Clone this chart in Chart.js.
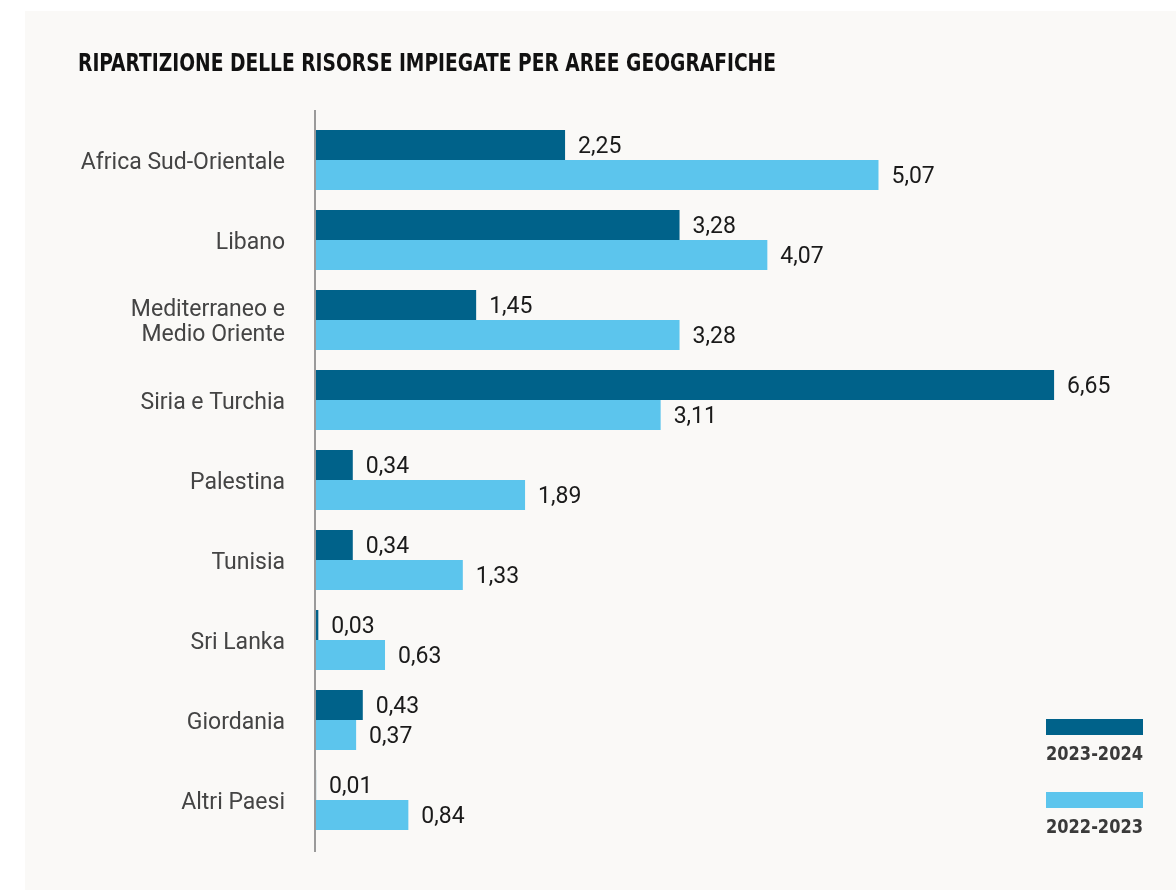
<!DOCTYPE html>
<html>
<head>
<meta charset="utf-8">
<script src="https://cdn.jsdelivr.net/npm/chart.js@4.4.1/dist/chart.umd.min.js"></script>
<style>
  html, body { margin: 0; padding: 0; background: #ffffff; }
  #panel { position: absolute; left: 25px; top: 11px; width: 1151px; height: 879px; background: #faf9f7; }
  #chart { position: absolute; left: 0; top: 0; }
</style>
</head>
<body>
<div id="panel"></div>
<canvas id="chart" width="1176" height="890"></canvas>
<script>
/* ---- dati ---- */
const titleText = "RIPARTIZIONE DELLE RISORSE IMPIEGATE PER AREE GEOGRAFICHE";
const areas = [
  "Africa Sud-Orientale",
  "Libano",
  ["Mediterraneo e", "Medio Oriente"],
  "Siria e Turchia",
  "Palestina",
  "Tunisia",
  "Sri Lanka",
  "Giordania",
  "Altri Paesi"
];
const years = ["2023-2024", "2022-2023"];
const values2324 = [2.25, 3.28, 1.45, 6.65, 0.34, 0.34, 0.03, 0.43, 0.01];
const values2223 = [5.07, 4.07, 3.28, 3.11, 1.89, 1.33, 0.63, 0.37, 0.84];
const colors = ["#00628a", "#5cc5ed"];

const fmt = v => v.toFixed(2).replace(".", ",");

/* ---- titolo, asse, etichette e legenda ---- */
const extras = {
  id: "extras",
  afterDatasetsDraw(chart) {
    const ctx = chart.ctx;
    const area = chart.chartArea;

    // titolo (font condensato)
    ctx.save();
    ctx.font = "bold 24px 'DejaVu Sans Condensed', 'DejaVu Sans'";
    ctx.fillStyle = "#111111";
    ctx.textBaseline = "middle";
    const tw = ctx.measureText(titleText).width;
    ctx.translate(78, 65);
    ctx.scale(698 / tw, 1);
    ctx.fillText(titleText, 0, 0);
    ctx.restore();

    // linea dell'asse
    ctx.save();
    ctx.strokeStyle = "#9a9a9a";
    ctx.lineWidth = 2;
    ctx.beginPath();
    ctx.moveTo(area.left, area.top - 10);
    ctx.lineTo(area.left, area.bottom + 12);
    ctx.stroke();
    ctx.restore();

    // valori
    ctx.save();
    ctx.font = "23px Roboto";
    ctx.fillStyle = "#1a1a1a";
    ctx.textBaseline = "middle";
    chart.data.datasets.forEach((ds, i) => {
      chart.getDatasetMeta(i).data.forEach((bar, j) => {
        ctx.fillText(fmt(ds.data[j]), bar.x + 13, bar.y + 2);
      });
    });
    ctx.restore();

    // legenda
    ctx.save();
    chart.data.datasets.forEach((ds, i) => {
      const y = 719 + i * 73;
      ctx.fillStyle = ds.backgroundColor;
      ctx.fillRect(1046, y, 97, 16);
      ctx.font = "bold 20px 'DejaVu Sans Condensed', 'DejaVu Sans'";
      ctx.fillStyle = "#3a3a3a";
      ctx.textBaseline = "middle";
      const w = ctx.measureText(ds.label).width;
      ctx.save();
      ctx.translate(1046, y + 36);
      ctx.scale(97 / w, 1);
      ctx.fillText(ds.label, 0, 0);
      ctx.restore();
    });
    ctx.restore();
  }
};

new Chart(document.getElementById("chart"), {
  type: "bar",
  data: {
    labels: areas,
    datasets: [
      { label: years[0], data: values2324, backgroundColor: colors[0] },
      { label: years[1], data: values2223, backgroundColor: colors[1] }
    ]
  },
  options: {
    indexAxis: "y",
    responsive: false,
    animation: false,
    categoryPercentage: 0.75,
    barPercentage: 1,
    layout: { padding: { left: 78, top: 120, right: 33, bottom: 50 } },
    plugins: {
      legend: { display: false },
      tooltip: { enabled: false }
    },
    scales: {
      x: {
        display: false,
        min: 0,
        max: 7.45
      },
      y: {
        afterFit(scale) { scale.width = 237; },
        grid: { display: false, drawTicks: false },
        border: { display: false },
        ticks: {
          padding: 30,
          labelOffset: 3,
          color: "#444444",
          font: { family: "Roboto", size: 23, lineHeight: 1.09 }
        }
      }
    }
  },
  plugins: [extras]
});
</script>
</body>
</html>
